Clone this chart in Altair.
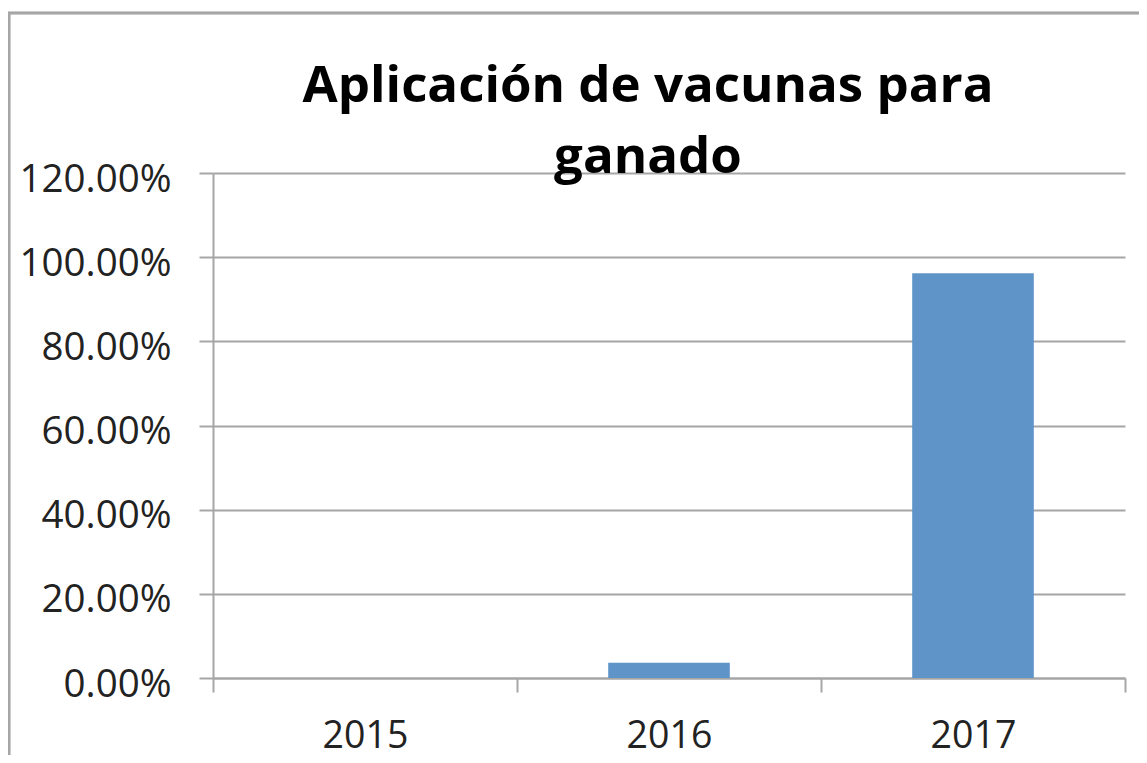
import altair as alt
import pandas as pd

years = ["2015", "2016", "2017"]
values = [0.0, 0.036, 0.962]
y_ticks = [0.0, 0.2, 0.4, 0.6, 0.8, 1.0, 1.2]
title_lines = ["Aplicación de vacunas para", "ganado"]

df = pd.DataFrame({"year": years, "value": values})

FONT = "Open Sans"
GRID = "#a6a6a6"

bars = alt.Chart(df).mark_bar(color="#5e94c8", width={"band": 0.4}).encode(
    x=alt.X(
        "year:N",
        sort=years,
        scale=alt.Scale(paddingInner=0, paddingOuter=0),
        axis=alt.Axis(
            title=None,
            labelAngle=0,
            labelFont=FONT,
            labelFontSize=37.5,
            labelColor="#222222",
            labelPadding=25,
            tickBand="extent",
            tickSize=14,
            tickColor=GRID,
            tickWidth=2,
            domainColor=GRID,
            domainWidth=2,
            grid=False,
        ),
    ),
    y=alt.Y(
        "value:Q",
        scale=alt.Scale(domain=[0, 1.2], nice=False),
        axis=alt.Axis(
            title=None,
            values=y_ticks,
            format=".2%",
            labelFont=FONT,
            labelFontSize=38.5,
            labelColor="#222222",
            labelPadding=28,
            labelOffset=6,
            tickSize=14,
            tickColor=GRID,
            tickWidth=2,
            domainColor=GRID,
            domainWidth=2,
            grid=True,
            gridColor=GRID,
            gridWidth=2,
        ),
    ),
)

frame = alt.Chart(df).mark_rect(fill=None, stroke="#a6a6a6", strokeWidth=2.5).encode(
    x=alt.value(-204), x2=alt.value(1000), y=alt.value(-160), y2=alt.value(700)
)

chart = alt.layer(frame, bars).properties(
    width=912,
    height=505,
    background="white",
    padding={"left": 205, "top": 165, "right": 14, "bottom": 77},
    autosize=alt.AutoSizeParams(type="none"),
    title=alt.TitleParams(
        text=title_lines,
        font=FONT,
        fontSize=51,
        fontWeight="bold",
        color="#000000",
        anchor="middle",
        dx=-21,
        dy=172,
        lineHeight=71,
        offset=0,
    ),
).configure_view(stroke=None)

chart.save("out.html", embed_options={"renderer": "svg", "actions": False})
